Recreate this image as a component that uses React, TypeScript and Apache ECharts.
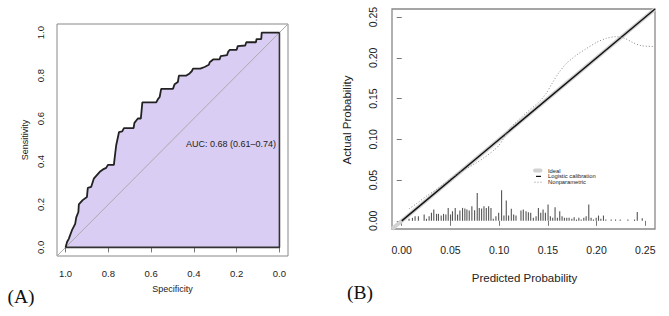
import React, { useEffect, useRef } from "react";
import * as echarts from "echarts";

// Panel A: ROC curve (specificity, sensitivity)
const rocSpecificity = [1.0, 0.993, 0.985, 0.97, 0.955, 0.95, 0.94, 0.938, 0.92, 0.9, 0.896, 0.88, 0.868, 0.84, 0.825, 0.81, 0.802, 0.774, 0.77, 0.763, 0.75, 0.735, 0.727, 0.682, 0.678, 0.662, 0.648, 0.641, 0.576, 0.568, 0.56, 0.553, 0.498, 0.49, 0.475, 0.47, 0.435, 0.42, 0.41, 0.404, 0.37, 0.35, 0.33, 0.326, 0.31, 0.28, 0.275, 0.245, 0.24, 0.232, 0.2, 0.195, 0.16, 0.155, 0.11, 0.107, 0.085, 0.083, 0.0];
const rocSensitivity = [0.0, 0.025, 0.04, 0.08, 0.11, 0.14, 0.165, 0.2, 0.22, 0.235, 0.277, 0.282, 0.32, 0.352, 0.363, 0.37, 0.384, 0.384, 0.42, 0.477, 0.537, 0.54, 0.555, 0.555, 0.58, 0.6, 0.6, 0.675, 0.675, 0.69, 0.7, 0.738, 0.738, 0.76, 0.77, 0.8, 0.8, 0.81, 0.82, 0.832, 0.832, 0.84, 0.85, 0.862, 0.875, 0.875, 0.89, 0.895, 0.91, 0.92, 0.92, 0.937, 0.94, 0.955, 0.955, 0.97, 0.97, 1.0, 1.0];
const rocTicks = [0, 0.2, 0.4, 0.6, 0.8, 1.0];
const aucLabel = "AUC: 0.68 (0.61\u20130.74)";

// Panel B: calibration plot
const calTicks = [0, 0.05, 0.1, 0.15, 0.2, 0.25];
const idealX = [-0.01, 0.26];
const logisticX = [0.0, 0.26];
const logisticY = [0.0, 0.26];
const nonparX = [0.0075, 0.015, 0.025, 0.035, 0.045, 0.055, 0.065, 0.075, 0.085, 0.095, 0.1, 0.105, 0.11, 0.12, 0.13, 0.141, 0.148, 0.155, 0.162, 0.169, 0.179, 0.189, 0.2, 0.21, 0.22, 0.229, 0.237, 0.246, 0.258];
const nonparY = [0.0147, 0.021, 0.03, 0.038, 0.047, 0.056, 0.063, 0.07, 0.078, 0.087, 0.093, 0.102, 0.112, 0.124, 0.135, 0.146, 0.156, 0.17, 0.183, 0.193, 0.203, 0.211, 0.219, 0.224, 0.226, 0.224, 0.219, 0.215, 0.214];
const histX = [0.0075, 0.011, 0.0137, 0.0171, 0.023, 0.0254, 0.0281, 0.0305, 0.0329, 0.0357, 0.0377, 0.0405, 0.0429, 0.0453, 0.0477, 0.0501, 0.0521, 0.0549, 0.0573, 0.0597, 0.0624, 0.0648, 0.0669, 0.0693, 0.072, 0.0748, 0.0775, 0.0796, 0.082, 0.0844, 0.0868, 0.0892, 0.0916, 0.094, 0.0967, 0.0995, 0.1025, 0.1049, 0.1073, 0.1097, 0.1125, 0.1149, 0.1173, 0.1224, 0.1248, 0.1276, 0.13, 0.1324, 0.1351, 0.1379, 0.1403, 0.1427, 0.1451, 0.1475, 0.1502, 0.1526, 0.155, 0.1574, 0.1598, 0.1622, 0.1646, 0.167, 0.1694, 0.1718, 0.1746, 0.177, 0.1794, 0.1818, 0.1842, 0.1869, 0.1893, 0.192, 0.1944, 0.1968, 0.1996, 0.202, 0.2044, 0.2071, 0.2095, 0.215, 0.2195, 0.2243, 0.2322, 0.239, 0.2418, 0.2469];
const histH = [0.0025, 0.0037, 0.0057, 0.0057, 0.0078, 0.0025, 0.0057, 0.0098, 0.0139, 0.0086, 0.0086, 0.0065, 0.0086, 0.0078, 0.0159, 0.0078, 0.0118, 0.0159, 0.0078, 0.0127, 0.0159, 0.0151, 0.0139, 0.0127, 0.018, 0.0131, 0.0343, 0.0159, 0.0151, 0.018, 0.0159, 0.018, 0.0159, 0.0025, 0.0057, 0.0098, 0.0376, 0.0065, 0.025, 0.0065, 0.0147, 0.0078, 0.0065, 0.0127, 0.0139, 0.0118, 0.0106, 0.0098, 0.0037, 0.0057, 0.0159, 0.0098, 0.0139, 0.0098, 0.02, 0.0057, 0.0037, 0.0167, 0.0037, 0.0118, 0.0057, 0.0037, 0.0037, 0.0037, 0.0025, 0.0045, 0.0016, 0.0037, 0.0016, 0.0037, 0.0057, 0.02, 0.0037, 0.0016, 0.0037, 0.0065, 0.0025, 0.0065, 0.0016, 0.0016, 0.0016, 0.0016, 0.0016, 0.0016, 0.011, 0.0033];
const legendNames = ["Ideal", "Logistic calibration", "Nonparametric"];

const FONT = "Liberation Sans";
const SERIF = "Liberation Serif";
const IDEAL_COLOR = "#d2d2d2";
const LOGISTIC_COLOR = "#111";
const NONPAR_COLOR = "#888";

export default function App() {
  const ref = useRef<HTMLDivElement>(null);
  useEffect(() => {
    if (!ref.current) return;
    const chart = echarts.init(ref.current, null, { renderer: "svg" });
    const rocData = rocSpecificity.map((s, i) => [s, rocSensitivity[i]]);
    const lastSpec = rocSpecificity[rocSpecificity.length - 1];
    const firstSpec = rocSpecificity[0];
    const tickAxis = (ticks: number[], digits: number, fs: number, margin: number, rotate: number, extra: any) => ({
      type: "value",
      splitLine: { show: false },
      axisLine: { show: false },
      axisTick: { show: true, customValues: ticks, length: 5, lineStyle: { color: "#777", width: 1 } },
      axisLabel: {
        customValues: ticks,
        formatter: (v: number) => v.toFixed(digits),
        fontSize: fs,
        color: "#222",
        margin,
        rotate,
        fontFamily: FONT,
      },
      ...extra,
    });
    // legend (panel B) drawn as graphic elements
    const legendX = 533.5;
    const legendTextX = 548;
    const legendRowsY = [170.6, 176.4, 182.2];
    const legendGraphic: any[] = [
      { type: "line", z: 20, shape: { x1: legendX + 1.5, y1: legendRowsY[0], x2: legendX + 7, y2: legendRowsY[0] }, style: { stroke: IDEAL_COLOR, lineWidth: 4, lineCap: "round" } },
      { type: "line", z: 20, shape: { x1: legendX + 2.5, y1: legendRowsY[1], x2: legendX + 7.5, y2: legendRowsY[1] }, style: { stroke: LOGISTIC_COLOR, lineWidth: 1.2 } },
      { type: "line", z: 20, shape: { x1: legendX + 1, y1: legendRowsY[2], x2: legendX + 9, y2: legendRowsY[2] }, style: { stroke: NONPAR_COLOR, lineWidth: 1, lineDash: [1, 2] } },
      ...legendNames.map((name, i) => ({
        type: "text",
        z: 20,
        x: legendTextX,
        y: legendRowsY[i],
        style: { text: name, fontSize: 5.8, lineHeight: 5.8, fill: "#222", fontFamily: FONT, align: "left", verticalAlign: "middle" },
      })),
    ];
    const option: any = {
      animation: false,
      textStyle: { fontFamily: FONT },
      grid: [
        { left: 57, top: 24, width: 231, height: 232, show: true, borderColor: "#888", borderWidth: 1, backgroundColor: "transparent" },
        { left: 392, top: 9, width: 263, height: 220, show: true, borderColor: "#888", borderWidth: 1.3, backgroundColor: "transparent" },
      ],
      xAxis: [
        tickAxis(rocTicks, 1, 9.5, 12, 0, { gridIndex: 0, min: -0.04, max: 1.04, inverse: true }),
        tickAxis(calTicks, 2, 10.5, 15.5, 0, { gridIndex: 1, min: -0.01, max: 0.26 }),
      ],
      yAxis: [
        tickAxis(rocTicks, 1, 9.5, 12, 90, { gridIndex: 0, min: -0.04, max: 1.04 }),
        tickAxis(calTicks, 2, 10.5, 13.5, 90, { gridIndex: 1, min: -0.01, max: 0.26 }),
      ],
      series: [
        {
          name: "auc-area",
          type: "line",
          xAxisIndex: 0,
          yAxisIndex: 0,
          data: rocData,
          symbol: "none",
          lineStyle: { width: 0, opacity: 0 },
          areaStyle: { color: "#dacdf3", opacity: 1 },
          silent: true,
          z: 1,
        },
        {
          name: "diagonal",
          type: "line",
          xAxisIndex: 0,
          yAxisIndex: 0,
          data: [[1.04, -0.04], [-0.04, 1.04]],
          symbol: "none",
          lineStyle: { color: "#aaa", width: 1 },
          z: 2,
        },
        {
          name: "auc-border",
          type: "line",
          xAxisIndex: 0,
          yAxisIndex: 0,
          data: [[lastSpec, 1], [lastSpec, 0], [firstSpec, 0]],
          symbol: "none",
          lineStyle: { color: "#333", width: 1.6 },
          z: 3,
        },
        {
          name: "roc",
          type: "line",
          xAxisIndex: 0,
          yAxisIndex: 0,
          data: rocData,
          symbol: "none",
          lineStyle: { color: "#222", width: 1.8 },
          z: 4,
        },
        {
          name: "histogram",
          type: "bar",
          xAxisIndex: 1,
          yAxisIndex: 1,
          data: histX.map((x, i) => [x, histH[i]]),
          barWidth: 1.1,
          itemStyle: { color: "#555" },
          z: 2,
        },
        {
          name: "Ideal",
          type: "line",
          xAxisIndex: 1,
          yAxisIndex: 1,
          data: idealX.map((x) => [x, x]),
          symbol: "none",
          lineStyle: { color: IDEAL_COLOR, width: 4 },
          z: 2,
        },
        {
          name: "Logistic calibration",
          type: "line",
          xAxisIndex: 1,
          yAxisIndex: 1,
          data: logisticX.map((x, i) => [x, logisticY[i]]),
          symbol: "none",
          lineStyle: { color: LOGISTIC_COLOR, width: 1.4 },
          z: 3,
        },
        {
          name: "Nonparametric",
          type: "line",
          xAxisIndex: 1,
          yAxisIndex: 1,
          data: nonparX.map((x, i) => [x, nonparY[i]]),
          symbol: "none",
          smooth: 0.3,
          lineStyle: { color: NONPAR_COLOR, width: 1, type: [1, 2] },
          z: 3,
        },
      ],
      graphic: [
        { type: "text", z: 20, x: 186, y: 144, style: { text: aucLabel, fontSize: 9, fill: "#222", fontFamily: FONT, align: "left", verticalAlign: "middle" } },
        { type: "text", z: 20, x: 172.5, y: 289, style: { text: "Specificity", fontSize: 9, fill: "#222", fontFamily: FONT, align: "center", verticalAlign: "middle" } },
        { type: "text", z: 20, x: 25, y: 140, rotation: Math.PI / 2, style: { text: "Sensitivity", fontSize: 9, fill: "#222", fontFamily: FONT, align: "center", verticalAlign: "middle" } },
        { type: "text", z: 20, x: 524.5, y: 278, style: { text: "Predicted Probability", fontSize: 11.5, fill: "#222", fontFamily: FONT, align: "center", verticalAlign: "middle" } },
        { type: "text", z: 20, x: 346.7, y: 120, rotation: Math.PI / 2, style: { text: "Actual Probability", fontSize: 11.5, fill: "#222", fontFamily: FONT, align: "center", verticalAlign: "middle" } },
        { type: "text", z: 20, x: 21, y: 296, style: { text: "(A)", fontSize: 19.5, fill: "#111", fontFamily: SERIF, align: "center", verticalAlign: "middle" } },
        { type: "text", z: 20, x: 360, y: 292.5, style: { text: "(B)", fontSize: 19.5, fill: "#111", fontFamily: SERIF, align: "center", verticalAlign: "middle" } },
        ...legendGraphic,
      ],
    };
    chart.setOption(option);
    return () => chart.dispose();
  }, []);
  return (
    <div
      ref={ref}
      style={{ position: "fixed", left: 0, top: 0, width: 669, height: 316, background: "#fff" }}
    />
  );
}
